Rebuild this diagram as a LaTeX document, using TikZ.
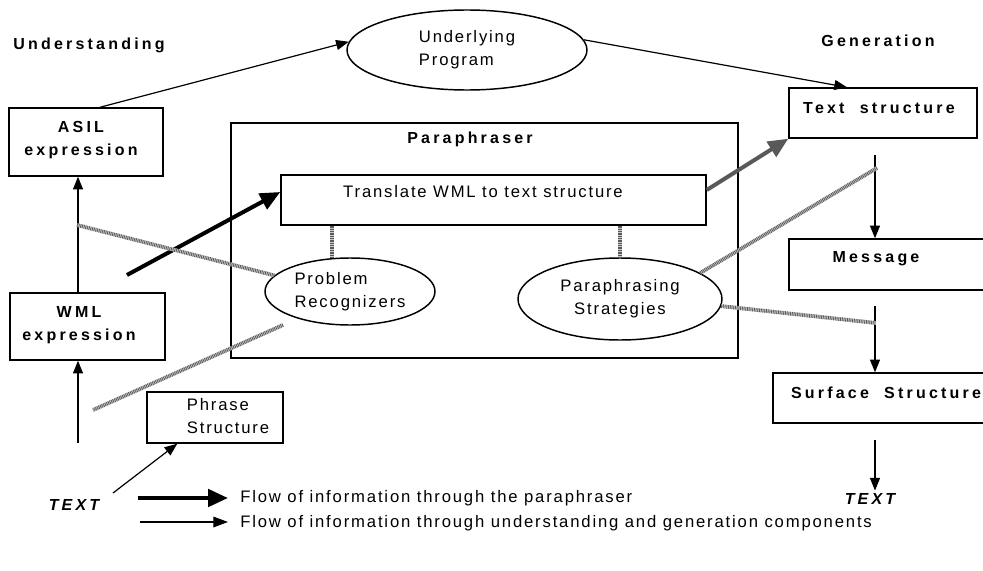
\documentclass[tikz,border=0pt]{standalone}
\usepackage{fontspec}
\setmainfont{Liberation Sans}
\newfontfamily\regf[LetterSpace=11]{Liberation Sans}
\newfontfamily\bldf[LetterSpace=20]{Liberation Sans}
\usetikzlibrary{arrows.meta,shapes.geometric}
\begin{document}
\begin{tikzpicture}[x=0.75pt,y=-0.75pt,
  box/.style={draw, line width=1.1pt, inner sep=0pt},
  oval/.style={draw, ellipse, line width=1.1pt, inner sep=0pt},
  bl/.style={font=\bldf\fontsize{12}{17}\selectfont\bfseries, inner sep=0pt, align=center},
  rg/.style={font=\regf\fontsize{12.5}{17}\selectfont, inner sep=0pt},
  thinarrow/.style={line width=0.9pt, -{Triangle[length=9.5pt,width=7.5pt]}},
  thickarrow/.style={line width=3pt, -{Triangle[length=15pt,width=13pt]}},
  hatch/.style={draw=black!65, line width=2.8pt, dash pattern=on 0.6pt off 0.7pt,
    preaction={draw=black!20, line width=2.8pt, solid}}
]
\path[use as bounding box, fill=white] (0,0) rectangle (983,571);

% titles
\node[bl] (und) at (89,45) {Understanding};
\node[bl] (gen) at (878,41) {Generation};

% ellipse top
\node[oval, rg, align=left, minimum width=180pt, minimum height=60pt] (prog) at (467,50) {Underlying\\Program};

% left column
\node[box, minimum width=115.5pt, minimum height=51pt] (asil) at (86,142) {};
\node[bl] (asiltxt) at (81,140) {ASIL\\expression};
\node[box, minimum width=116.25pt, minimum height=50.25pt] (wml) at (87.5,326.5) {};
\node[bl] (wmltxt) at (79,325) {WML\\expression};
\node[box, minimum width=102pt, minimum height=38.25pt] (phr) at (215,417.5) {};
\node[rg, align=left] (phrtxt) at (228,416) {Phrase\\Structure};
\node[bl, font=\bldf\fontsize{12}{17}\selectfont\bfseries\itshape] (textL) at (74,505) {TEXT};

% paraphraser
\node[box, line width=1.5pt, minimum width=380.25pt, minimum height=176.25pt] (para) at (484.5,240.5) {};
\node[bl] (paratitle) at (470,139) {Paraphraser};
\node[box, minimum width=318.75pt, minimum height=37.5pt] (trans) at (493.5,200) {};
\node[rg] (transtxt) at (483,192) {Translate WML to text structure};
\node[oval, rg, align=left, minimum width=127.5pt, minimum height=50.25pt] (prob) at (350,291.5) {Problem\\Recognizers};
\node[oval, rg, align=center, minimum width=153pt, minimum height=61.5pt] (strat) at (620,299) {Paraphrasing\\Strategies};

% right column
\node[box, minimum width=141pt, minimum height=37.5pt] (ts) at (883,113) {};
\node[bl] (tstxt) at (879,108) {Text~~structure};
\node[box, minimum width=150.75pt, minimum height=38.25pt] (msg) at (889.5,264.5) {};
\node[bl] (msgtxt) at (876,259) {Message};
\node[box, minimum width=166.5pt, minimum height=37.5pt] (surf) at (884,398) {};
\node[bl] (surftxt) at (886,393) {Surface~~Structure};
\node[bl, font=\bldf\fontsize{12}{17}\selectfont\bfseries\itshape] (textR) at (870,499) {TEXT};

% connectors left
\coordinate (vx) at (78,0);
\draw[thinarrow] (wml.north -| vx) -- (asil.south -| vx);
\coordinate (lb) at (78,443);
\draw[thinarrow] (lb) -- (wml.south -| lb);
\coordinate (tl) at (113,493);
\draw[thinarrow] (tl) -- ([xshift=23.25pt]phr.south west);
\draw[thinarrow] ([xshift=10.5pt]asil.north) -- (prog.176);
\draw[thinarrow] (prog.5) -- ([xshift=-27pt]ts.north);

% thick arrows
\coordinate (tk) at (127,275);
\draw[thickarrow] (tk) -- ([yshift=6pt]trans.west);
\draw[thickarrow, draw=black!65] ([yshift=7.5pt]trans.east) -- (ts.south west);

% right column arrows
\coordinate (r1) at (875,155);
\draw[thinarrow] (r1) -- (msg.north -| r1);
\coordinate (r2) at (875,306);
\draw[thinarrow] (r2) -- (surf.north -| r2);
\coordinate (r3) at (875,440);
\draw[thinarrow, shorten >=2pt] (r3) -- (textR.north -| r3);

% hatched connections
\coordinate (h1) at (77,225);
\draw[hatch] (h1) -- (prob.168);
\coordinate (h2a) at (283,325);
\coordinate (h2b) at (93,410);
\draw[hatch] (h2a) -- (h2b);
\coordinate (h3) at (877,168);
\draw[hatch] (h3) -- (strat.18);
\coordinate (h4) at (876,323);
\draw[hatch] (strat.-4) -- (h4);
\coordinate (pv) at (332,0);
\draw[hatch] (trans.south -| pv) -- (prob.north -| pv);
\draw[hatch] (trans.south -| strat.north) -- (strat.north);

% legend
\coordinate (l1a) at (138,498);
\coordinate (l1b) at (228,498);
\draw[thickarrow] (l1a) -- (l1b);
\coordinate (l2a) at (140,522);
\coordinate (l2b) at (228,522);
\draw[line width=0.9pt, -{Triangle[length=11pt,width=8pt]}] (l2a) -- (l2b);
\node[rg, anchor=west] (leg1) at (240,498) {Flow of information through the paraphraser};
\node[rg, anchor=west] (leg2) at (240,523) {Flow of information through understanding and generation components};
\end{tikzpicture}
\end{document}
